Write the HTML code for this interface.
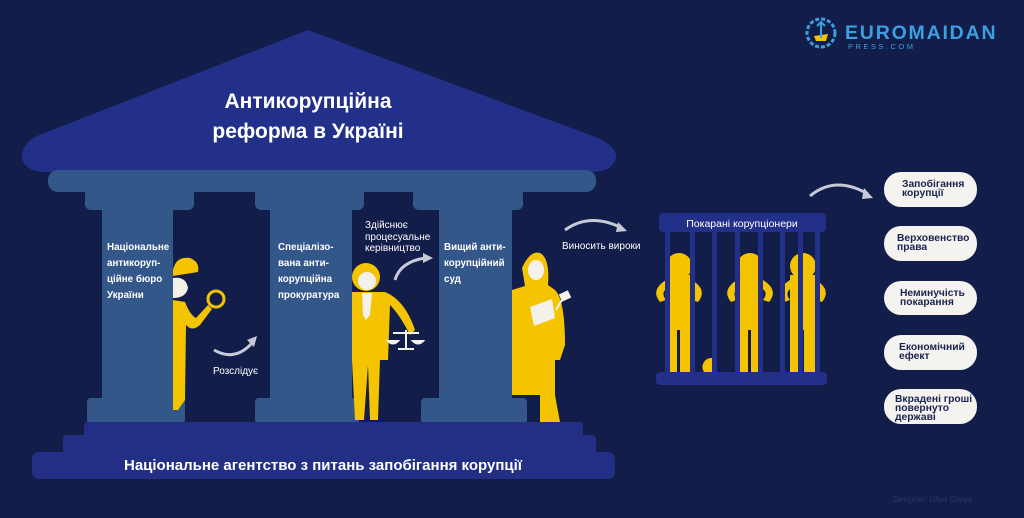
<!DOCTYPE html>
<html><head><meta charset="utf-8"><style>
html,body{margin:0;padding:0;background:#131d4a;}
svg{display:block}
text{font-family:"Liberation Sans","DejaVu Sans",sans-serif;}
</style></head><body>
<svg width="1024" height="518" viewBox="0 0 1024 518" xmlns="http://www.w3.org/2000/svg">
<rect width="1024" height="518" fill="#131d4a"/>
<!-- roof -->
<path d="M308,30 L590,135 Q618,145 616,158 Q612,172 592,172 L48,172 Q22,172 22,155 Q24,140 42,134 Z" fill="#22308a"/>
<text x="308" y="108" text-anchor="middle" fill="#fff" font-size="21" font-weight="bold">Антикорупційна</text>
<text x="308" y="138" text-anchor="middle" fill="#fff" font-size="21" font-weight="bold">реформа в Україні</text>
<!-- beam -->
<rect x="48" y="170" width="548" height="22" rx="10" fill="#34578a"/>
<!-- pillars -->
<g fill="#34578a">
<rect x="85" y="188" width="109" height="22" rx="6"/><rect x="102" y="200" width="71" height="205"/><rect x="87" y="398" width="98" height="26" rx="4"/>
<rect x="255" y="188" width="109" height="22" rx="6"/><rect x="270" y="200" width="82" height="205"/><rect x="255" y="398" width="104" height="26" rx="4"/>
<rect x="413" y="188" width="110" height="22" rx="6"/><rect x="439" y="200" width="73" height="205"/><rect x="421" y="398" width="106" height="26" rx="4"/>
</g>
<!-- steps -->
<g fill="#222f85">
<rect x="84" y="422" width="499" height="16" rx="3"/>
<rect x="63" y="435" width="533" height="20" rx="4"/>
<rect x="32" y="452" width="583" height="27" rx="7"/>
</g>
<text x="323" y="470" text-anchor="middle" fill="#fff" font-size="15" font-weight="bold">Національне агентство з питань запобігання корупції</text>
<!-- pillar texts -->
<g fill="#fff" font-size="9.8" font-weight="bold">
<text x="107" y="250">Національне</text><text x="107" y="266">антикоруп-</text><text x="107" y="282">ційне бюро</text><text x="107" y="298">України</text>
<text x="278" y="250">Спеціалізо-</text><text x="278" y="266">вана анти-</text><text x="278" y="282">корупційна</text><text x="278" y="298">прокуратура</text>
<text x="444" y="250">Вищий анти-</text><text x="444" y="266">корупційний</text><text x="444" y="282">суд</text>
</g>
<g fill="#fff" font-size="10">
<text x="365" y="228">Здійснює</text><text x="365" y="240">процесуальне</text><text x="365" y="251">керівництво</text>
<text x="562" y="249">Виносить вироки</text>
<text x="213" y="374">Розслідує</text>
</g>
<!-- curved arrows -->
<g fill="none" stroke="#c6cad8" stroke-width="3">
<path d="M214,350 Q235,362 252,343"/>
<path d="M395,280 Q400,262 425,258"/>
<path d="M565,230 Q590,212 622,228"/>
<path d="M810,196 Q835,175 868,194"/>
</g>
<g fill="#c6cad8">
<polygon points="247,340 257,336 254,347"/>
<polygon points="423,253 433,258 423,263"/>
<polygon points="618,222 627,231 616,232"/>
<polygon points="864,188 873,198 862,199"/>
</g>
<!-- detective -->
<g fill="#f5c400">
<path d="M173,270 Q176,256 190,258 Q200,262 198,272 L173,276 Z"/>
<path d="M173,300 L185,302 Q190,315 196,318 L208,305 L212,309 L200,325 Q192,332 186,325 L185,400 L178,410 L173,410 Z"/>
<circle cx="216" cy="299" r="8" fill="none" stroke="#f5c400" stroke-width="3"/>
</g>
<path d="M173,278 Q186,276 188,288 Q186,298 173,298 Z" fill="#f4f1ea"/>
<!-- prosecutor -->
<g fill="#f5c400">
<circle cx="366" cy="277" r="14"/>
<path d="M352,292 L385,292 Q405,300 415,330 L410,335 Q400,315 390,305 L388,360 L380,360 L378,420 L370,420 L368,365 L364,420 L355,420 L352,360 Z"/>
</g>
<circle cx="367" cy="281" r="9" fill="#f4f1ea"/>
<polygon points="362,293 372,293 370,315 366,320 363,315" fill="#f4f1ea"/>
<g stroke="#f4f1ea" stroke-width="2" fill="#f4f1ea">
<line x1="406" y1="330" x2="406" y2="349"/><line x1="393" y1="333" x2="419" y2="333"/>
<line x1="398" y1="349" x2="414" y2="349"/>
<path d="M388,341 L398,341 Q393,346 388,341Z"/><path d="M413,341 L423,341 Q418,346 413,341Z"/>
</g>
<!-- judge -->
<g fill="#f5c400">
<path d="M522,268 Q530,250 540,253 Q550,258 548,285 L555,290 Q565,300 565,345 L560,360 L555,360 L555,395 L560,422 L540,422 L540,395 L525,395 L512,395 L512,290 L525,286 Z"/>
</g>
<ellipse cx="536" cy="270" rx="8" ry="10" fill="#f4f1ea"/>
<polygon points="530,307 552,299 555,318 534,326" fill="#f4f1ea"/>
<rect x="560" y="292" width="10" height="8" fill="#f4f1ea" transform="rotate(-25 565 296)"/>
<line x1="563" y1="298" x2="556" y2="310" stroke="#f4f1ea" stroke-width="2"/>
<!-- cage -->
<g fill="#f5c400">
<circle cx="679" cy="266" r="13"/><rect x="666" y="275" width="26" height="97"/>
<path d="M666,280 Q650,290 660,302 L666,300 Q660,292 668,288Z"/><path d="M692,280 Q708,290 698,302 L692,300 Q698,292 690,288Z"/>
<circle cx="750" cy="266" r="13"/><rect x="737" y="275" width="26" height="97"/>
<path d="M737,280 Q721,290 731,302 L737,300 Q731,292 739,288Z"/><path d="M763,280 Q779,290 769,302 L763,300 Q769,292 761,288Z"/>
<circle cx="803" cy="266" r="13"/><rect x="790" y="275" width="26" height="97"/>
<path d="M790,280 Q774,290 784,302 L790,300 Q784,292 792,288Z"/><path d="M816,280 Q832,290 822,302 L816,300 Q822,292 814,288Z"/>
<path d="M704,372 A9,9 0 0 1 712,358 L712,372Z"/>
</g>
<g fill="#131d4a"><rect x="677" y="330" width="3" height="42"/><rect x="748" y="330" width="3" height="42"/><rect x="801" y="330" width="3" height="42"/></g>
<g fill="#22308a">
<rect x="665" y="232" width="5" height="140"/><rect x="690" y="232" width="5" height="140"/><rect x="712" y="232" width="5" height="140"/>
<rect x="735" y="232" width="5" height="140"/><rect x="758" y="232" width="5" height="140"/><rect x="780" y="232" width="5" height="140"/>
<rect x="798" y="232" width="5" height="140"/><rect x="815" y="232" width="5" height="140"/>
<rect x="659" y="213" width="167" height="19" rx="4"/>
<rect x="656" y="372" width="171" height="13" rx="4"/>
</g>
<text x="742" y="227" text-anchor="middle" fill="#fff" font-size="10.5">Покарані корупціонери</text>
<!-- pills -->
<g fill="#f5f3ef">
<rect x="884" y="172" width="93" height="35" rx="17"/>
<rect x="884" y="226" width="93" height="35" rx="17"/>
<rect x="884" y="281" width="93" height="34" rx="17"/>
<rect x="884" y="335" width="93" height="35" rx="17"/>
<rect x="884" y="389" width="93" height="35" rx="17"/>
</g>
<g fill="#1a2350" font-size="10.3" font-weight="bold">
<text x="902" y="187">Запобігання</text><text x="902" y="196">корупції</text>
<text x="897" y="241">Верховенство</text><text x="897" y="250">права</text>
<text x="900" y="296">Неминучість</text><text x="900" y="305">покарання</text>
<text x="899" y="350">Економічний</text><text x="899" y="359">ефект</text>
<text x="895" y="402">Вкрадені гроші</text><text x="895" y="411">повернуто</text><text x="895" y="420">державі</text>
</g>
<!-- logo -->
<circle cx="821" cy="33" r="14" fill="none" stroke="#3aa0e0" stroke-width="3" stroke-dasharray="4 2"/>
<path d="M814,36 L828,34 L826,41 L816,41Z" fill="#f5c400"/>
<path d="M821,22 L821,38 M817,26 L821,22 L825,26" stroke="#3aa0e0" stroke-width="2" fill="none"/>
<text x="845" y="39" fill="#3aa0e0" font-size="19.5" font-weight="bold" letter-spacing="1.8">EUROMAIDAN</text>
<text x="848" y="49" fill="#3aa0e0" font-size="7.5" letter-spacing="2.5">PRESS.COM</text>
<text x="893" y="502" fill="#2a3670" font-size="8" font-style="italic">Designer: Uliya Ooрук</text>
</svg>
</body></html>
